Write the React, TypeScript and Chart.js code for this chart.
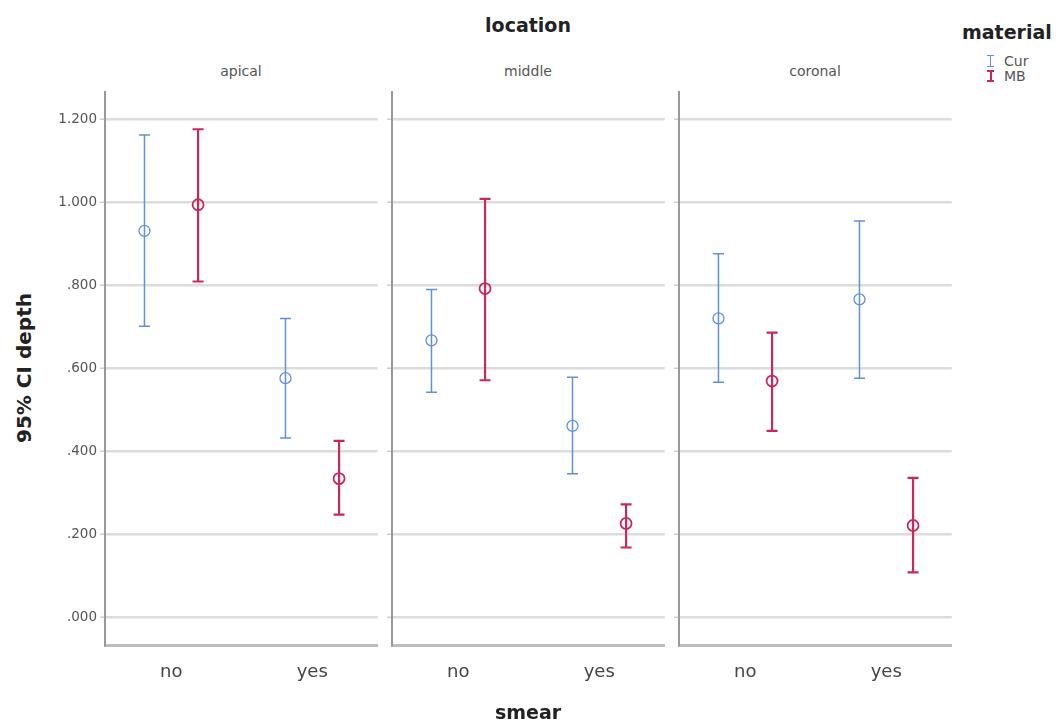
import React, { useEffect, useRef } from "react";
import { Chart, registerables } from "chart.js";

Chart.register(...registerables);

// ---- data ----
const locations = ["apical", "middle", "coronal"];
const smearLevels = ["no", "yes"];
const seriesNames = ["Cur", "MB"];
// [location][smear]
const curMean = [[0.931, 0.576], [0.667, 0.461], [0.72, 0.766]];
const curLow = [[0.701, 0.432], [0.542, 0.346], [0.566, 0.576]];
const curHigh = [[1.162, 0.72], [0.79, 0.578], [0.876, 0.955]];
const mbMean = [[0.994, 0.334], [0.792, 0.226], [0.569, 0.221]];
const mbLow = [[0.809, 0.247], [0.571, 0.168], [0.449, 0.108]];
const mbHigh = [[1.176, 0.425], [1.008, 0.272], [0.686, 0.336]];
const yTicks = [0, 0.2, 0.4, 0.6, 0.8, 1.0, 1.2];

const COLORS = ["#5f92da", "#c8285a"];
const ERR_WIDTH = [1.5, 2.2];
const FONT = "'DejaVu Sans', 'Liberation Sans', Arial, sans-serif";

const PANEL_LEFTS = [105, 392, 679];
const PANEL_W = 272;
const EXTRA_RIGHT = 8;
const AREA_TOP = 90;
const AREA_BOTTOM = 645;

const errorBarPlugin = {
  id: "errorBars",
  beforeDatasetsDraw(chart: any) {
    const { ctx } = chart;
    const xs = chart.scales.x;
    const ys = chart.scales.y;
    chart.data.datasets.forEach((ds: any, di: number) => {
      ds.data.forEach((p: any) => {
        const px = xs.getPixelForValue(p.x);
        const top = ys.getPixelForValue(p.hi);
        const bot = ys.getPixelForValue(p.lo);
        ctx.save();
        ctx.strokeStyle = ds.borderColor;
        ctx.lineWidth = ERR_WIDTH[di];
        ctx.beginPath();
        ctx.moveTo(px, top);
        ctx.lineTo(px, bot);
        ctx.moveTo(px - 5.5, top);
        ctx.lineTo(px + 5.5, top);
        ctx.moveTo(px - 5.5, bot);
        ctx.lineTo(px + 5.5, bot);
        ctx.stroke();
        ctx.restore();
      });
    });
  },
};

function fmtY(v: number) {
  const s = Number(v).toFixed(3);
  return s.startsWith("0") ? s.slice(1) : s;
}

function Panel({ index }: { index: number }) {
  const ref = useRef<HTMLCanvasElement | null>(null);
  const yW = index === 0 ? 65 : 8;
  const padTop = 5;
  const xH = 42;
  const width = yW + PANEL_W + EXTRA_RIGHT;
  const height = padTop + (AREA_BOTTOM - AREA_TOP) + xH;
  useEffect(() => {
    if (!ref.current) return;
    const means = [curMean, mbMean];
    const lows = [curLow, mbLow];
    const highs = [curHigh, mbHigh];
    const datasets = seriesNames.map((name, si) => ({
      label: name,
      data: smearLevels.map((_, ci) => ({
        x: ci + (si === 0 ? -0.19 : 0.19),
        y: means[si][index][ci],
        lo: lows[si][index][ci],
        hi: highs[si][index][ci],
      })),
      borderColor: COLORS[si],
      backgroundColor: "rgba(255,255,255,0)",
      pointRadius: 5.5,
      pointBorderWidth: si === 0 ? 1.3 : 1.8,
      showLine: false,
    }));
    const chart = new Chart(ref.current, {
      type: "scatter",
      data: { datasets },
      plugins: [errorBarPlugin],
      options: {
        animation: false,
        responsive: false,
        maintainAspectRatio: false,
        devicePixelRatio: 1,
        layout: { padding: { top: padTop, left: 0, right: 0, bottom: 0 } },
        plugins: { legend: { display: false }, tooltip: { enabled: false } },
        scales: {
          x: {
            type: "linear",
            min: -0.47,
            max: 1.464,
            afterBuildTicks: (s: any) => {
              s.ticks = smearLevels.map((_, i) => ({ value: i }));
            },
            afterFit: (s: any) => {
              s.height = xH;
            },
            grid: { drawOnChartArea: false, drawTicks: false },
            border: { color: "#bdbdbd", width: 3 },
            ticks: {
              padding: 17,
              autoSkip: false,
              maxRotation: 0,
              color: "#444",
              font: { size: 18, family: FONT },
              callback: (v: any) => smearLevels[Math.round(Number(v))] ?? "",
            },
          },
          y: {
            type: "linear",
            min: -0.067,
            max: 1.265,
            afterBuildTicks: (s: any) => {
              s.ticks = yTicks.map((v) => ({ value: v }));
            },
            afterFit: (s: any) => {
              s.width = yW;
              s.paddingTop = 0;
              s.paddingBottom = 0;
            },
            grid: { color: "#dcdcdc", lineWidth: 2.5, tickLength: 5, tickColor: "#cfcfcf", tickWidth: 1.5 },
            border: { color: "#999999", width: 2 },
            ticks: {
              display: index === 0,
              padding: 3,
              color: "#555",
              font: { size: 13.5, family: FONT },
              callback: (v: any) => fmtY(v),
            },
          },
        },
      },
    } as any);
    return () => chart.destroy();
  }, [index]);
  return (
    <canvas
      ref={ref}
      width={width}
      height={height}
      style={{
        position: "absolute",
        left: PANEL_LEFTS[index] - yW,
        top: AREA_TOP - padTop,
        width,
        height,
      }}
    />
  );
}

const textBase: React.CSSProperties = {
  position: "absolute",
  fontFamily: FONT,
  whiteSpace: "nowrap",
};

export default function App() {
  const centerX = (PANEL_LEFTS[0] + PANEL_LEFTS[2] + PANEL_W) / 2;
  return (
    <div style={{ position: "absolute", left: 0, top: 0, width: 1058, height: 726, background: "#fff", overflow: "hidden" }}>
      <div style={{ ...textBase, left: centerX - 100, width: 200, textAlign: "center", top: 13, lineHeight: "24px", fontSize: 19, fontWeight: "bold", color: "#222" }}>
        location
      </div>
      {locations.map((loc, i) => (
        <div
          key={loc}
          style={{ ...textBase, left: PANEL_LEFTS[i] + PANEL_W / 2 - 60, width: 120, textAlign: "center", top: 61, lineHeight: "20px", fontSize: 14, color: "#555" }}
        >
          {loc}
        </div>
      ))}
      {locations.map((loc, i) => (
        <Panel key={loc} index={i} />
      ))}
      <div style={{ ...textBase, left: centerX - 100, width: 200, textAlign: "center", top: 700, lineHeight: "24px", fontSize: 19, fontWeight: "bold", color: "#222" }}>
        smear
      </div>
      <div
        style={{
          ...textBase,
          left: 24 - 120,
          top: 368 - 12,
          width: 240,
          height: 24,
          lineHeight: "24px",
          textAlign: "center",
          transform: "rotate(-90deg)",
          fontSize: 20,
          fontWeight: "bold",
          color: "#222",
        }}
      >
        95% CI depth
      </div>
      <div style={{ ...textBase, left: 962, top: 20, lineHeight: "24px", fontSize: 19, fontWeight: "bold", color: "#222" }}>material</div>
      {seriesNames.map((name, i) => (
        <div key={name} style={{ ...textBase, left: 987, top: 53 + i * 15, height: 16, display: "flex", alignItems: "center" }}>
          <div style={{ position: "relative", width: 8, height: 12, marginRight: 9 }}>
            <div style={{ position: "absolute", left: 0, top: 0, width: 7, height: i === 0 ? 1 : 2, background: COLORS[i] }} />
            <div style={{ position: "absolute", left: 3, top: 0, width: i === 0 ? 1 : 2, height: 12, background: COLORS[i] }} />
            <div style={{ position: "absolute", left: 0, bottom: 0, width: 7, height: i === 0 ? 1 : 2, background: COLORS[i] }} />
          </div>
          <span style={{ fontSize: 14, color: "#555" }}>{name}</span>
        </div>
      ))}
    </div>
  );
}
